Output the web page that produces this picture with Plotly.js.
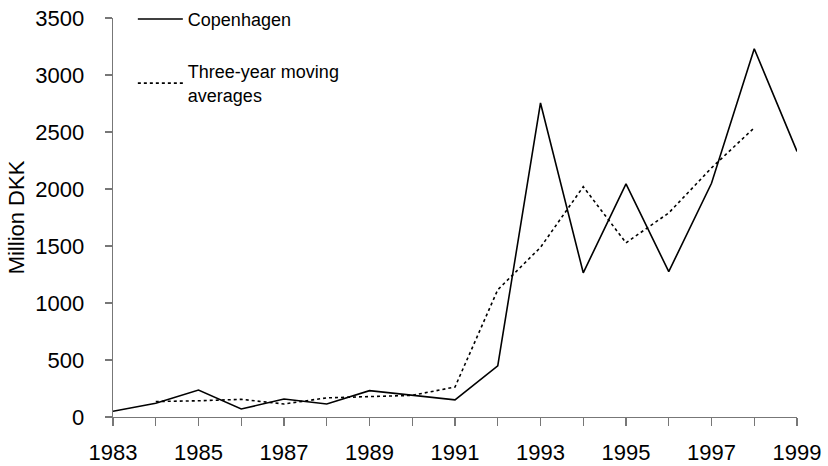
<!DOCTYPE html>
<html>
<head>
<meta charset="utf-8">
<script src="https://cdn.plot.ly/plotly-3.0.1.min.js"></script>
<style>html,body{margin:0;padding:0;background:#fff}#chart{width:828px;height:466px}</style>
</head>
<body>
<div id="chart"></div>
<script>
const years = [1983,1984,1985,1986,1987,1988,1989,1990,1991,1992,1993,1994,1995,1996,1997,1998,1999];
const copenhagen = [50,120,237,70,158,114,231,190,150,448,2755,1265,2045,1275,2050,3230,2330];
const avgYears = [1984,1985,1986,1987,1988,1989,1990,1991,1992,1993,1994,1995,1996,1997,1998];
const movingAvg = [136,142,155,114,168,178,190,263,1116,1488,2020,1528,1790,2185,2537];
const seriesNames = ['Copenhagen','Three-year moving<br>averages'];
const xTickVals = [1983,1985,1987,1989,1991,1993,1995,1997,1999];
const yTickVals = [0,500,1000,1500,2000,2500,3000,3500];

const FONT = 'Liberation Sans, Arial, sans-serif';
const data = [
  {x: years, y: copenhagen, type:'scatter', mode:'lines', name: seriesNames[0],
   line:{color:'#000', width:1.6, dash:'solid'}, legendgroup:'a'},
  {x: avgYears, y: movingAvg, type:'scatter', mode:'lines', name: seriesNames[1],
   line:{color:'#000', width:1.6, dash:'dot'}, legendgroup:'b'}
];
const layout = {
  width: 828, height: 466,
  margin: {l:113, r:31, t:18, b:49, autoexpand:false},
  paper_bgcolor:'#fff', plot_bgcolor:'#fff',
  font: {family: FONT, color:'#000', size: 22},
  showlegend: true,
  legend: {x:0.029, y:1.043, xanchor:'left', yanchor:'top', bgcolor:'rgba(0,0,0,0)',
    font:{family:FONT, size:18, color:'#000'}, itemwidth:45, tracegroupgap:26},
  xaxis: {range:[1983,1999], tickvals:xTickVals, ticktext:xTickVals.map(String),
    ticks:'outside', ticklen:8, tickcolor:'#777', tickwidth:1.3,
    showline:true, linecolor:'#777', linewidth:1.3, showgrid:false, zeroline:false,
    minor:{dtick:1, tick0:1983, ticks:'outside', ticklen:8, tickcolor:'#777', tickwidth:1.3, showgrid:false},
    tickfont:{family:FONT, size:22, color:'#000'}, ticklabelstandoff:7},
  yaxis: {range:[0,3500], tickvals:yTickVals, ticks:'outside', ticklen:7, tickcolor:'#777', tickwidth:1.3,
    showline:true, linecolor:'#777', linewidth:1.3, showgrid:false, zeroline:false,
    tickfont:{family:FONT, size:22, color:'#000'}, ticklabelstandoff:16,
    title:{text:'Million DKK', font:{family:FONT, size:22, color:'#000'}, standoff:4}}
};
Plotly.newPlot('chart', data, layout, {displayModeBar:false, staticPlot:true});
</script>
</body>
</html>
